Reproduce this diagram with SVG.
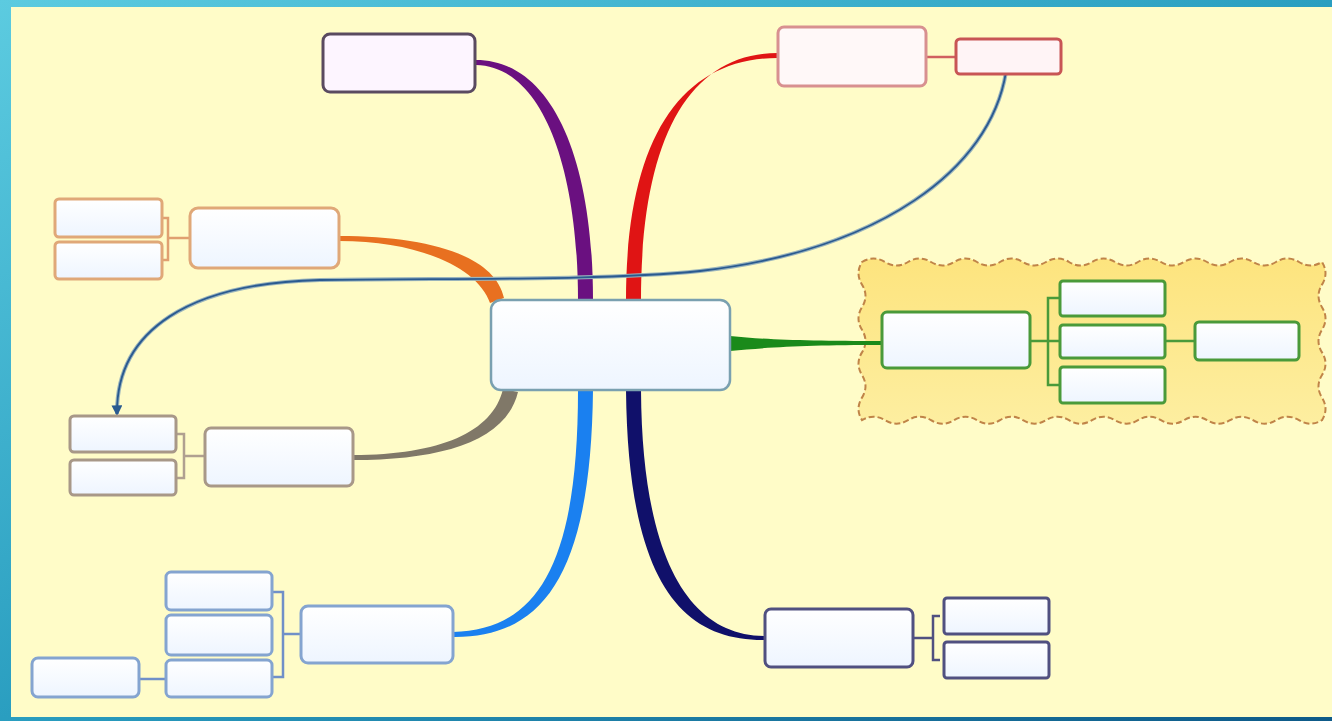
<svg xmlns="http://www.w3.org/2000/svg" width="1332" height="721" viewBox="0 0 1332 721">
<defs>
<linearGradient id="frame" x1="0" y1="0" x2="1" y2="1">
<stop offset="0" stop-color="#5ccbe0"/>
<stop offset="0.5" stop-color="#2a9ec0"/>
<stop offset="1" stop-color="#0e5a88"/>
</linearGradient>
<linearGradient id="nodefill" x1="0" y1="0" x2="0" y2="1">
<stop offset="0" stop-color="#ffffff"/>
<stop offset="1" stop-color="#eef5ff"/>
</linearGradient>
<linearGradient id="cloudfill" x1="0" y1="0" x2="0" y2="1">
<stop offset="0" stop-color="#fde47e"/>
<stop offset="1" stop-color="#fdeea0"/>
</linearGradient>
<marker id="arrow" viewBox="0 0 10 10" refX="8" refY="5" markerWidth="6" markerHeight="6" orient="auto">
<path d="M0 0 L10 5 L0 10 Z" fill="#2a5a90"/>
</marker>
<style>
.node{fill:url(#nodefill);stroke-width:3}
.purple{stroke:#5a4a60;fill:#fdf5ff}
.red{stroke:#d89090;fill:#fff8f8}
.red2{stroke:#c85555;fill:#fff4f6}
.orange{stroke:#e0a878}
.brown{stroke:#a89888}
.lblue{stroke:#84a4d0}
.navy{stroke:#505080}
.green{stroke:#4a9a3a}
.center{stroke:#7aa0b0;stroke-width:2.5}
.thin{fill:none;stroke-width:2.5}
</style>
</defs>
<rect x="0" y="0" width="1332" height="721" fill="url(#frame)"/>
<rect x="11" y="7" width="1321" height="710" fill="#fffcc8"/>

<g id="cloud">
<path d="M862 262 q11.5 -7 23 0 t23 0 t23 0 t23 0 t23 0 t23 0 t23 0 t23 0 t23 0 t23 0 t23 0 t23 0 t23 0 t23 0 t23 0 t23 0 t23 0 t23 0 t23 0 t23 0 q7 11.3 0 22.6 t0 22.6 t0 22.6 t0 22.6 t0 22.6 t0 22.6 t0 22.6 q-11.5 7 -23 0 t-23 0 t-23 0 t-23 0 t-23 0 t-23 0 t-23 0 t-23 0 t-23 0 t-23 0 t-23 0 t-23 0 t-23 0 t-23 0 t-23 0 t-23 0 t-23 0 t-23 0 t-23 0 t-23 0 q-7 -11.3 0 -22.6 t0 -22.6 t0 -22.6 t0 -22.6 t0 -22.6 t0 -22.6 t0 -22.6 Z" fill="url(#cloudfill)" stroke="#c08448" stroke-width="2" stroke-dasharray="6 3"/>
</g>

<g id="connectors">
<path d="M476 60 C548 60 593 150 593 300 L578 300 C578 162 540 66 476 65 Z" fill="#6a1080"/>
<path d="M778 53 C688 53 641 140 641 300 L626 300 C626 140 680 58 778 58 Z" fill="#e01414"/>
<line x1="926" y1="57" x2="956" y2="57" stroke="#d06060" stroke-width="2.5"/>
<path d="M339 236 C430 236 495 256 504 298 L490 303 C478 268 420 241 339 241 Z" fill="#e87020"/>
<path d="M353 455 C440 455 493 432 503 389 L518 392 C506 442 440 460 353 460 Z" fill="#807868"/>
<path d="M453 632 C540 630 578 560 578 390 L593 390 C591 572 545 638 453 637 Z" fill="#1a80f0"/>
<path d="M626 390 L641 390 C642 560 690 636 765 636 L765 640 C680 641 628 580 626 390 Z" fill="#10106a"/>
<path d="M730 336 C770 340 810 341 882 341 L882 345 C810 345 770 347 730 351 Z" fill="#1a8a1a"/>
<path d="M1006 72 C990 170 880 250 700 271 C600 281 450 278 320 280 C190 283 116 330 117 414" fill="none" stroke="#9ab4bc" stroke-width="4"/>
<path d="M1006 72 C990 170 880 250 700 271 C600 281 450 278 320 280 C190 283 116 330 117 414" fill="none" stroke="#2a5a90" stroke-width="1.8" marker-end="url(#arrow)"/>
<!-- orange bracket -->
<path class="thin" stroke="#e0a070" d="M162 218 L168 218 L168 260 L162 260 M168 238 L190 238"/>
<!-- brown bracket -->
<path class="thin" stroke="#b0a090" d="M176 434 L184 434 L184 478 L176 478 M184 456 L205 456"/>
<!-- light blue bracket -->
<path class="thin" stroke="#7090c8" d="M272 592 L283 592 L283 677 L272 677 M283 634 L301 634 M139 679 L166 679"/>
<!-- navy bracket -->
<path class="thin" stroke="#505080" d="M913 638 L933 638 M940 616 L933 616 L933 660 L940 660"/>
<!-- green bracket -->
<path class="thin" stroke="#4a9a3a" d="M1030 341 L1060 341 M1060 298 L1048 298 L1048 385 L1060 385 M1165 341 L1195 341"/>
</g>

<g id="central"><rect class="node center" x="491" y="300" width="239" height="90" rx="10"/></g>
<g id="purple-node"><rect class="node purple" x="323" y="34" width="152" height="58" rx="7"/></g>
<g id="red-node"><rect class="node red" x="778" y="27" width="148" height="59" rx="6"/></g>
<g id="red-child"><rect class="node red2" x="956" y="39" width="105" height="35" rx="4"/></g>
<g id="orange-node"><rect class="node orange" x="190" y="208" width="149" height="60" rx="8"/></g>
<g id="orange-child-1"><rect class="node orange" x="55" y="199" width="107" height="38" rx="4"/></g>
<g id="orange-child-2"><rect class="node orange" x="55" y="242" width="107" height="37" rx="4"/></g>
<g id="brown-node"><rect class="node brown" x="205" y="428" width="148" height="58" rx="6"/></g>
<g id="brown-child-1"><rect class="node brown" x="70" y="416" width="106" height="36" rx="4"/></g>
<g id="brown-child-2"><rect class="node brown" x="70" y="460" width="106" height="35" rx="4"/></g>
<g id="lblue-node"><rect class="node lblue" x="301" y="606" width="152" height="57" rx="7"/></g>
<g id="lblue-child-1"><rect class="node lblue" x="166" y="572" width="106" height="38" rx="5"/></g>
<g id="lblue-child-2"><rect class="node lblue" x="166" y="615" width="106" height="40" rx="5"/></g>
<g id="lblue-child-3"><rect class="node lblue" x="166" y="660" width="106" height="37" rx="5"/></g>
<g id="lblue-grandchild"><rect class="node lblue" x="32" y="658" width="107" height="39" rx="6"/></g>
<g id="navy-node"><rect class="node navy" x="765" y="609" width="148" height="58" rx="6"/></g>
<g id="navy-child-1"><rect class="node navy" x="944" y="598" width="105" height="36" rx="3"/></g>
<g id="navy-child-2"><rect class="node navy" x="944" y="642" width="105" height="36" rx="3"/></g>
<g id="green-node"><rect class="node green" x="882" y="312" width="148" height="56" rx="5"/></g>
<g id="green-child-1"><rect class="node green" x="1060" y="281" width="105" height="35" rx="3"/></g>
<g id="green-child-2"><rect class="node green" x="1060" y="325" width="105" height="33" rx="3"/></g>
<g id="green-child-3"><rect class="node green" x="1060" y="367" width="105" height="36" rx="3"/></g>
<g id="green-grandchild"><rect class="node green" x="1195" y="322" width="104" height="38" rx="4"/></g>
</svg>
